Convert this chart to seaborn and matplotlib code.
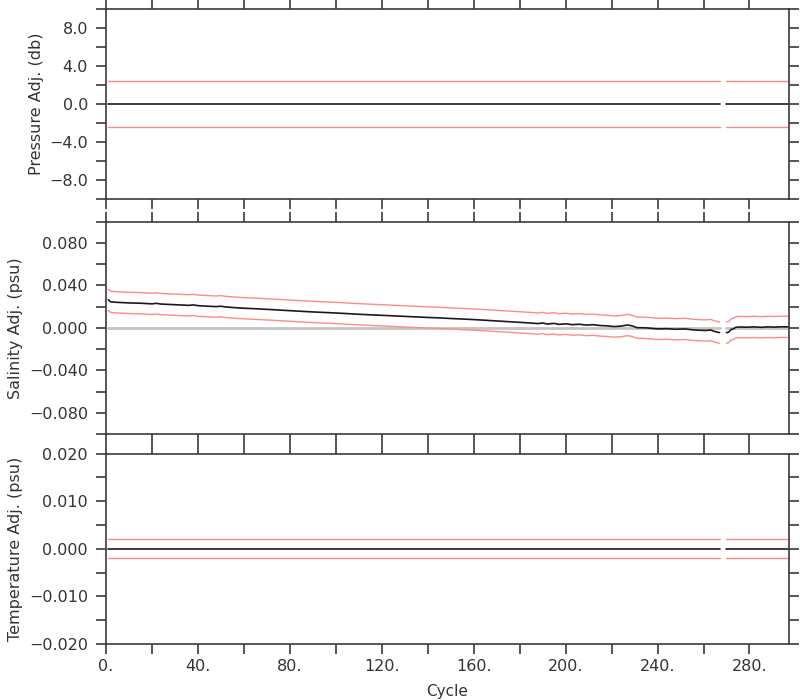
import numpy as np
import pandas as pd
import matplotlib
matplotlib.use("Agg")
import matplotlib.pyplot as plt
import seaborn as sns

# ---------------- data ----------------
# flat series: segment endpoints (cycles 268-269 missing)
flat_cycles = [1, 267, 270, 297]
flat_segments = [0, 0, 1, 1]
pres_adj = [0.0, 0.0, 0.0, 0.0]
pres_err = 2.4
temp_adj = [0.0, 0.0, 0.0, 0.0]
temp_err = 0.002

sal_cycles = [1, 2, 5, 10, 15, 20, 22, 24, 30, 36, 38, 40, 45, 48, 50, 52, 58, 65,
              72, 80, 84, 90, 100, 110, 120, 130, 140, 145, 150, 160, 170, 180,
              185, 188, 190, 192, 195, 197, 200, 203, 206, 209, 212, 215, 218,
              221, 224, 227, 229, 231, 235, 240, 244, 248, 252, 255, 258, 261,
              263, 265, 267,
              270, 271, 272, 273, 274, 276, 279, 282, 285, 288, 291, 294, 297]
sal_segments = [0] * 61 + [1] * 13
sal_adj = [0.0265, 0.0245, 0.0240, 0.0235, 0.0232, 0.0226, 0.0231, 0.0224,
           0.0218, 0.0212, 0.0216, 0.0209, 0.0203, 0.0200, 0.0204, 0.0197,
           0.0187, 0.0180, 0.0172, 0.0162, 0.0157, 0.0150, 0.0140, 0.0128,
           0.0118, 0.0108, 0.0098, 0.0094, 0.0088, 0.0078, 0.0065, 0.0052,
           0.0045, 0.0040, 0.0046, 0.0036, 0.0042, 0.0033, 0.0038, 0.0030,
           0.0034, 0.0026, 0.0030, 0.0022, 0.0019, 0.0012, 0.0016, 0.0027,
           0.0018, 0.0002, 0.0000, -0.0010, -0.0008, -0.0013, -0.0010, -0.0018,
           -0.0022, -0.0025, -0.0020, -0.0035, -0.0045,
           -0.0045, -0.0040, -0.0015, -0.0010, 0.0005, 0.0008, 0.0006, 0.0009,
           0.0005, 0.0009, 0.0007, 0.0010, 0.0009]
sal_err = 0.010

x_major = [0, 40, 80, 120, 160, 200, 240, 280]
x_major_labels = ["0.", "40.", "80.", "120.", "160.", "200.", "240.", "280."]
x_minor = [20, 60, 100, 140, 180, 220, 260]

pres_major = [-8, -4, 0, 4, 8]
pres_labels = ["\u22128.0", "\u22124.0", "0.0", "4.0", "8.0"]
pres_minor = [-10, -6, -2, 2, 6, 10]

sal_major = [-0.08, -0.04, 0.0, 0.04, 0.08]
sal_labels = ["\u22120.080", "\u22120.040", "0.000", "0.040", "0.080"]
sal_minor = [-0.10, -0.06, -0.02, 0.02, 0.06, 0.10]

temp_major = [-0.02, -0.01, 0.0, 0.01, 0.02]
temp_labels = ["\u22120.020", "\u22120.010", "0.000", "0.010", "0.020"]
temp_minor = [-0.015, -0.005, 0.005, 0.015]

ylabels = ["Pressure Adj. (db)", "Salinity Adj. (psu)", "Temperature Adj. (psu)"]
xlabel = "Cycle"

# ---------------- style ----------------
sns.set_theme(style="ticks")
plt.rcParams["font.family"] = ["DejaVu Sans"]
TXT = "#333333"
SPINE = "#3a3a3a"
RED = "#ff8a8a"
BLACK = "#1a1a1a"
GRAY = "#c4c4c4"

fig = plt.figure(figsize=(8, 7), dpi=100)
L, R = 106 / 800, 789 / 800
boxes = [(9, 199.3), (221.7, 434), (453.7, 644)]
axes = []
for top, bot in boxes:
    ax = fig.add_axes([L, 1 - bot / 700, R - L, (bot - top) / 700])
    axes.append(ax)


def flat_df(vals, err):
    return pd.DataFrame({
        "cycle": flat_cycles * 3,
        "segment": flat_segments * 3,
        "value": list(np.array(vals) + err) + list(np.array(vals) - err) + list(vals),
        "kind": ["up"] * 4 + ["lo"] * 4 + ["mid"] * 4,
    })


def draw(ax, df, zero_df=None):
    if zero_df is not None:
        sns.lineplot(data=zero_df, x="cycle", y="value", units="segment",
                     estimator=None, color=GRAY, lw=2.0, ax=ax, legend=False)
    for kind, col, lw in [("up", RED, 1.0), ("lo", RED, 1.0), ("mid", BLACK, 1.2)]:
        sub = df[df["kind"] == kind]
        sns.lineplot(data=sub, x="cycle", y="value", units="segment",
                     estimator=None, color=col, lw=lw, ax=ax, legend=False)


# pressure
draw(axes[0], flat_df(pres_adj, pres_err))

# salinity
sal = np.array(sal_adj)
sal_df = pd.DataFrame({
    "cycle": sal_cycles * 3,
    "segment": sal_segments * 3,
    "value": list(sal + sal_err) + list(sal - sal_err) + list(sal),
    "kind": ["up"] * len(sal) + ["lo"] * len(sal) + ["mid"] * len(sal),
})
zero_df = pd.DataFrame({"cycle": flat_cycles, "segment": flat_segments,
                        "value": [0.0] * 4})
draw(axes[1], sal_df, zero_df)

# temperature
draw(axes[2], flat_df(temp_adj, temp_err))

ylims = [(-10, 10), (-0.1, 0.1), (-0.02, 0.02)]
majors = [pres_major, sal_major, temp_major]
minors = [pres_minor, sal_minor, temp_minor]
labels = [pres_labels, sal_labels, temp_labels]

for i, ax in enumerate(axes):
    ax.set_xlim(0, 297.2)
    ax.set_ylim(*ylims[i])
    ax.set_xticks(x_major)
    ax.set_xticks(x_minor, minor=True)
    ax.set_yticks(majors[i])
    ax.set_yticks(minors[i], minor=True)
    ax.set_yticklabels(labels[i])
    if i == 2:
        ax.set_xticklabels(x_major_labels)
        ax.set_xlabel(xlabel, fontsize=11, color=TXT, labelpad=7)
    else:
        ax.set_xticklabels([])
        ax.set_xlabel("")
    ax.set_ylabel(ylabels[i], fontsize=11.5, color=TXT, labelpad=4)
    for which in ("major", "minor"):
        ax.tick_params(axis="both", which=which, direction="out", length=7,
                       width=1.2, color=SPINE, top=True, right=True,
                       labelsize=11.5, labelcolor=TXT, pad=6)
    ax.tick_params(axis="x", which="major", pad=4)
    for sp in ax.spines.values():
        sp.set_color(SPINE)
        sp.set_linewidth(1.2)
    ax.grid(False)

fig.savefig("out.png", dpi=100)
